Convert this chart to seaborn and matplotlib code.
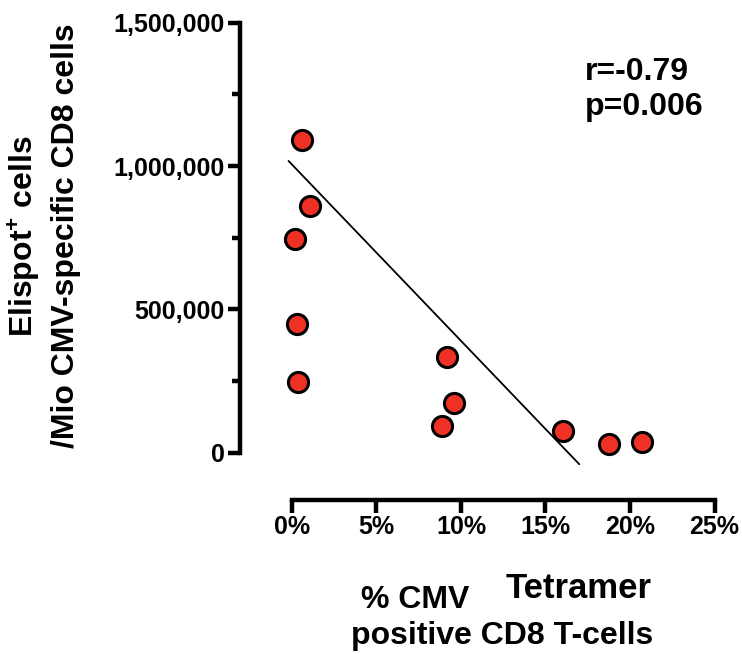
import numpy as np
import pandas as pd
import matplotlib
matplotlib.use('Agg')
import matplotlib.pyplot as plt
from matplotlib.ticker import FuncFormatter, MultipleLocator, FixedLocator
import seaborn as sns

# data
tetramer_pct = [0.57, 1.06, 0.18, 0.28, 0.37, 9.18, 9.57, 8.88, 16.04, 18.75, 20.68]
elispot_cells = [1090000, 861000, 746000, 448000, 246000, 334000, 172000, 92000, 77000, 30000, 36000]
# trend line as drawn in the figure (end points)
trend_pct = [-0.2, 17.0]
trend_cells = [1018000, -40000]
r_value = -0.79
p_value = 0.006
x_ticks = [0, 5, 10, 15, 20, 25]
y_ticks = [0, 500000, 1000000, 1500000]

df = pd.DataFrame({'pct': tetramer_pct, 'cells': elispot_cells})

sns.set_style('ticks')
plt.rcParams['font.family'] = ['Liberation Sans', 'DejaVu Sans']
plt.rcParams['font.weight'] = 'bold'
plt.rcParams['text.color'] = 'black'
plt.rcParams['axes.labelcolor'] = 'black'
plt.rcParams['mathtext.fontset'] = 'custom'
plt.rcParams['mathtext.rm'] = 'Liberation Sans:bold'
plt.rcParams['mathtext.bf'] = 'Liberation Sans:bold'

W, H = 742, 654
fig = plt.figure(figsize=(W / 100, H / 100), dpi=100)
ax = fig.add_axes([240 / W, 1 - 500 / H, (723 - 240) / W, (500 - 17) / H])

sns.scatterplot(data=df, x='pct', y='cells', ax=ax, s=210, color='#EE3124',
                edgecolor='black', linewidth=2.2, zorder=3, clip_on=False)
ax.plot(trend_pct, trend_cells, color='black', linewidth=1.3, zorder=2)

ax.set_xlim(-3.07, 25.5)
ax.set_ylim(-164700, 1520000)

for side in ['top', 'right']:
    ax.spines[side].set_visible(False)
ax.spines['left'].set_bounds(0, 1500000)
ax.spines['bottom'].set_bounds(0, 25)
for side in ['left', 'bottom']:
    ax.spines[side].set_linewidth(3.2)
    ax.spines[side].set_color('black')
    ax.spines[side].set_capstyle('projecting')

ax.xaxis.set_major_locator(FixedLocator(x_ticks))
ax.yaxis.set_major_locator(FixedLocator(y_ticks))
ax.yaxis.set_minor_locator(MultipleLocator(250000))
ax.xaxis.set_major_formatter(FuncFormatter(lambda v, p: f'{v:.0f}%'))
ax.yaxis.set_major_formatter(FuncFormatter(lambda v, p: f'{v:,.0f}'))
ax.tick_params(axis='both', which='major', direction='out', length=9, width=3.2,
               labelsize=18, colors='black', pad=2)
ax.tick_params(axis='y', which='minor', direction='out', length=6, width=3.2, colors='black')
for lab in ax.get_xticklabels() + ax.get_yticklabels():
    lab.set_fontweight('bold')
ax.set_xlabel('')
ax.set_ylabel('')

# axis titles
fig.text(23 / W, 1 - 236 / H, r'Elispot$^{+}$ cells', rotation=90, ha='center',
         va='center', fontsize=23, fontweight='bold')
fig.text(66 / W, 1 - 236 / H, '/Mio CMV-specific CD8 cells', rotation=90,
         ha='center', va='center', fontsize=23, fontweight='bold')
fig.text(415 / W, 1 - 608 / H, '% CMV', ha='center', va='baseline',
         fontsize=23, fontweight='bold')
fig.text(579 / W, 1 - 598 / H, 'Tetramer', ha='center', va='baseline',
         fontsize=25, fontweight='bold')
fig.text(502 / W, 1 - 644 / H, 'positive CD8 T-cells', ha='center', va='baseline',
         fontsize=23, fontweight='bold')

# statistics
fig.text(585 / W, 1 - 80 / H, f'r={r_value:.2f}', ha='left', va='baseline',
         fontsize=23, fontweight='bold')
fig.text(585 / W, 1 - 115 / H, f'p={p_value:.3f}', ha='left', va='baseline',
         fontsize=23, fontweight='bold')

fig.savefig('out.png', dpi=100, facecolor='white')
